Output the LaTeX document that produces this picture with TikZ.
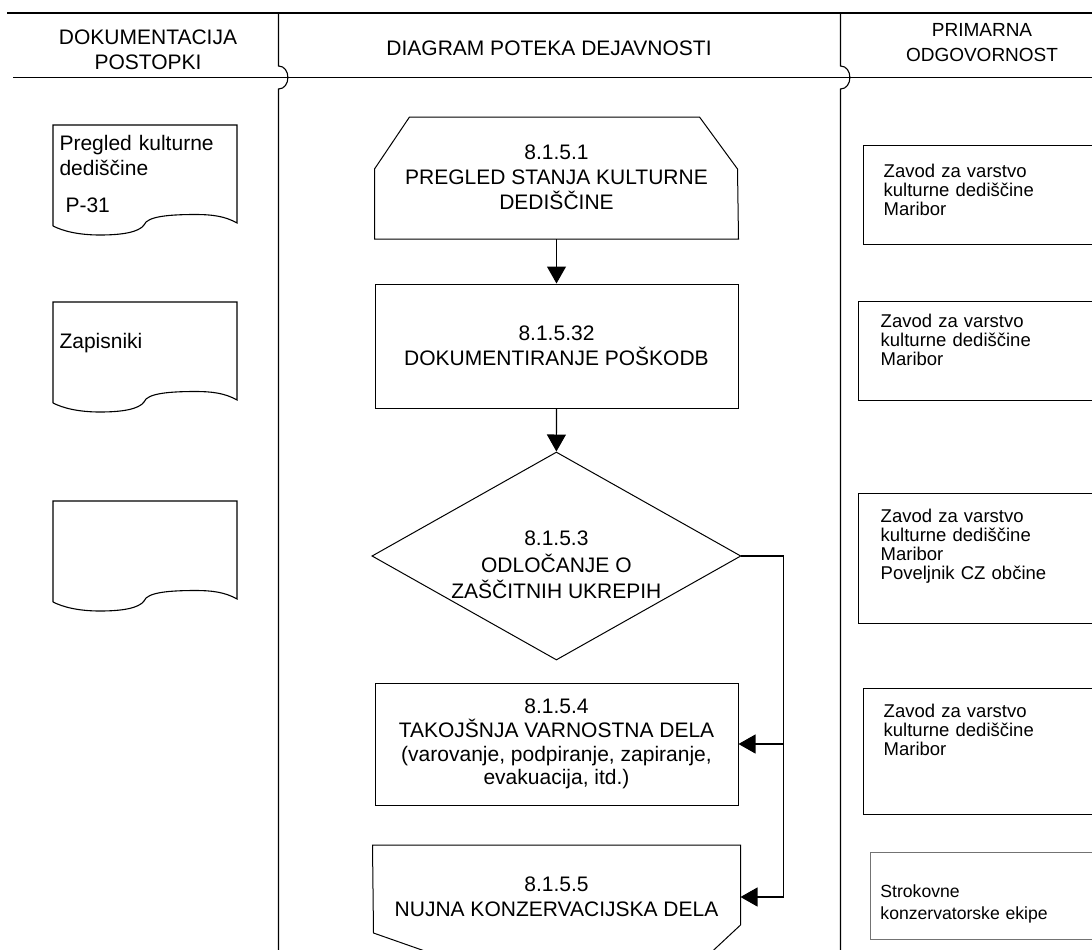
\documentclass[tikz,border=0pt]{standalone}
\usepackage{fontspec}
\setmainfont{Liberation Sans}
\usetikzlibrary{arrows.meta, shapes.geometric}

% outline of a document symbol, drawn round a named node
\newcommand{\dokobris}[1]{%
  \begin{scope}[shift={(#1.north west)}]
    \draw (0,101) -- (0,0) -- (184,0) -- (184,98)
      .. controls (172,91) and (158,89.5) .. (143,89.5)
      .. controls (118,89.5) and (94,91) .. (91,100)
      .. controls (86,107) and (70,110) .. (47,110)
      .. controls (25,110) and (10,106) .. (0,101);
  \end{scope}}

\begin{document}
\begin{tikzpicture}[x=1pt, y=-1pt, line width=1.1pt, >={Triangle[width=19pt,length=17pt]}]

\tikzset{
    naslov/.style={
        align=center, inner sep=0pt, font=\fontsize{21}{25}\selectfont
    },
    dokument/.style={
        anchor=north west, minimum width=184pt, inner xsep=6pt, inner ysep=0pt,
        text width=172pt, align=left, font=\fontsize{21}{25}\selectfont
    },
    proces/.style={
        draw, line width=1pt, minimum width=363pt, inner sep=0pt,
        align=center, font=\fontsize{21}{25}\selectfont
    },
    odlocitev/.style={
        draw, line width=1pt, diamond, aspect=1.77, minimum width=369pt, minimum height=208pt,
        inner sep=0pt, align=center, font=\fontsize{21}{26.5}\selectfont
    },
    nosilec/.style={
        draw, line width=1.4pt, anchor=north west, inner xsep=20pt, inner ysep=0pt,
        text width=230pt, align=left, font=\fontsize{18.5}{18.8}\selectfont
    },
    tok/.style={
        ->, line width=1.1pt
    }
}

% Background
\useasboundingbox (0,0) rectangle (1092,950);
\fill[white] (0,0) rectangle (1092,950);

% --- LANES ---
\draw (7,13) -- (1100,13);
\draw (13,77.3) -- (1100,77.3);
\draw (278.5,13) -- (278.5,66) .. controls (291,66) and (291,89) .. (278.5,89) -- (278.5,960);
\draw (840.5,13) -- (840.5,66) .. controls (853,66) and (853,89) .. (840.5,89) -- (840.5,960);

% Headers
\node[naslov] (hdok) at (148,49.6) {DOKUMENTACIJA\\POSTOPKI};
\node[naslov] (hdiag) at (549,48.2) {DIAGRAM POTEKA DEJAVNOSTI};
\node[naslov, font=\fontsize{19}{25.4}\selectfont] (hodg) at (982,42.5) {PRIMARNA\\ODGOVORNOST};

% --- LEFT: DOCUMENTS ---
\node[dokument, text height=25pt, text depth=76pt] (dok1) at (53,125) {Pregled kulturne\\dediščine\\[12pt]\hspace*{6pt}P-31};
\node[dokument, text height=46pt, text depth=55pt] (dok2) at (53,302) {Zapisniki};
\node[dokument, text height=50pt, text depth=51pt] (dok3) at (53,501) {};
\dokobris{dok1}
\dokobris{dok2}
\dokobris{dok3}

% --- MIDDLE: ACTIVITY FLOW ---
\node[proces, draw=none, minimum height=122pt] (pregled) at (556.5,177.5) {8.1.5.1\\PREGLED STANJA KULTURNE\\DEDIŠČINE};
\draw[line width=1pt] (pregled.south west) -- ++(0,-70) -- ++(35,-52) -- ++(290,0) -- ++(38,52) -- (pregled.south east) -- cycle;

\node[proces, minimum height=124pt] (dokumentiranje) at (556.5,346) {8.1.5.32\\DOKUMENTIRANJE POŠKODB};

\node[odlocitev] (odlocanje) at (556.4,556) {\rule{0pt}{33pt}8.1.5.3\\ODLOČANJE O\\ZAŠČITNIH UKREPIH};

\node[proces, minimum height=122pt, font=\fontsize{21}{23.7}\selectfont] (takojsnja) at (556.5,744) {8.1.5.4\\TAKOJŠNJA VARNOSTNA DELA\\(varovanje, podpiranje, zapiranje,\\evakuacija, itd.)};

\node[proces, draw=none, minimum width=367pt, minimum height=103pt] (nujna) at (556.5,897) {8.1.5.5\\NUJNA KONZERVACIJSKA DELA};
\draw[line width=1pt] (nujna.north west) -- (nujna.north east) -- ++(0,80) -- ++(-30,28) -- ++(-154,45) -- ++(-126,-45) -- ++(-57,-20) -- cycle;

% Connectors
\draw[tok] (pregled.south) -- (dokumentiranje.north);
\draw[tok] (dokumentiranje.south) -- (odlocanje.north);
\draw[tok] (odlocanje.east) -- ++(42,0) coordinate (razcep) |- (nujna.east);
\draw[tok] (razcep |- takojsnja.east) -- (takojsnja.east);

% --- RIGHT: RESPONSIBILITY ---
\node[nosilec, text height=32pt, text depth=67pt] (zavod1) at (863,145) {Zavod za varstvo\\kulturne dediščine\\Maribor};
\node[nosilec, inner xsep=22pt, text height=26pt, text depth=73pt] (zavod2) at (858,301) {Zavod za varstvo\\kulturne dediščine\\Maribor};
\node[nosilec, inner xsep=22pt, text height=29pt, text depth=101pt] (zavod3) at (858,493) {Zavod za varstvo\\kulturne dediščine\\Maribor\\Poveljnik CZ občine};
\node[nosilec, text height=29pt, text depth=97pt] (zavod4) at (863,688) {Zavod za varstvo\\kulturne dediščine\\Maribor};
\node[nosilec, draw=black!55, line width=0.9pt, inner xsep=10pt, font=\fontsize{17.6}{21.6}\selectfont, text height=45pt, text depth=42pt] (ekipe) at (870,852) {Strokovne\\konzervatorske ekipe};

\end{tikzpicture}
\end{document}
